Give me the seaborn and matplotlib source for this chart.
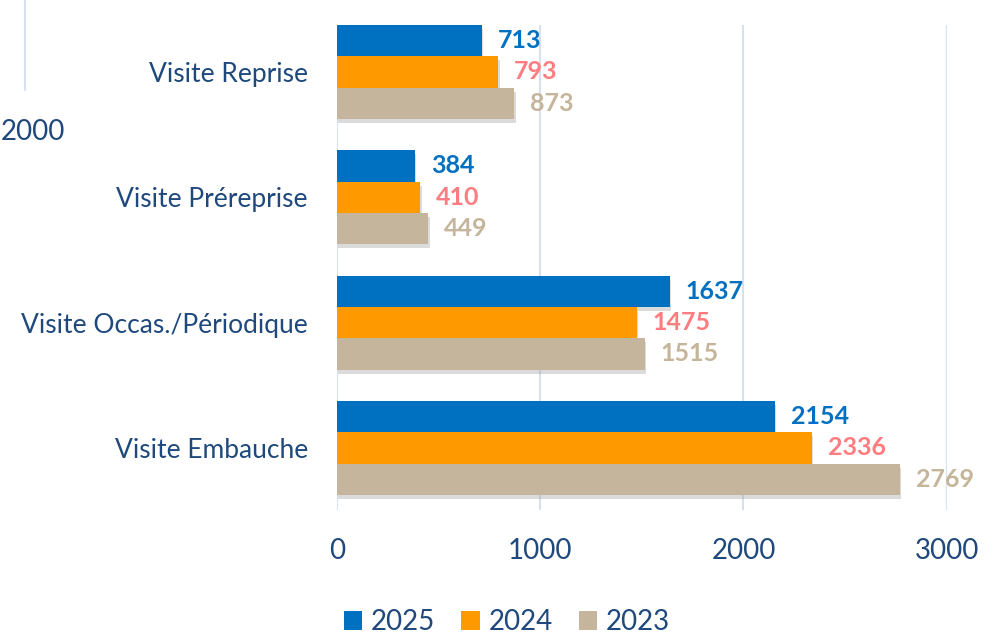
import matplotlib
matplotlib.use("Agg")
import matplotlib.pyplot as plt
import matplotlib.patheffects as pe
from matplotlib.patches import Patch
import seaborn as sns
import pandas as pd

categories = ["Visite Reprise", "Visite Préreprise", "Visite Occas./Périodique", "Visite Embauche"]
years = ["2025", "2024", "2023"]
values_2025 = [713, 384, 1637, 2154]
values_2024 = [793, 410, 1475, 2336]
values_2023 = [873, 449, 1515, 2769]
x_ticks = [0, 1000, 2000, 3000]

bar_colors = {"2025": "#0070C0", "2024": "#FF9900", "2023": "#C4B59C"}
label_colors = {"2025": "#0070C0", "2024": "#FF7C80", "2023": "#C4B59B"}
text_color = "#1F497D"
grid_color = "#D6E0EF"
FONT = ["Lato", "DejaVu Sans"]

rows = []
for y, vals in zip(years, [values_2025, values_2024, values_2023]):
    for c, v in zip(categories, vals):
        rows.append({"Catégorie": c, "Année": y, "Valeur": v})
df = pd.DataFrame(rows)

sns.set_theme(style="white")
plt.rcParams["font.family"] = FONT

W, H = 994, 634
fig = plt.figure(figsize=(W / 100, H / 100), dpi=100)
ax = fig.add_axes([337 / W, 1 - 510 / H, (946.7 - 337) / W, (510 - 25) / H])

sns.barplot(data=df, y="Catégorie", x="Valeur", hue="Année", order=categories,
            hue_order=years, palette=bar_colors, orient="h", width=0.75,
            saturation=1, ax=ax, legend=False, zorder=3)

shadow = [pe.SimplePatchShadow(offset=(1, -3), shadow_rgbFace="#8a8a8a", alpha=0.3), pe.Normal()]
for patch in ax.patches:
    patch.set_path_effects(shadow)
    patch.set_linewidth(0)

for cont, y in zip(ax.containers, years):
    ax.bar_label(cont, labels=[str(int(v)) for v in cont.datavalues], padding=11.5,
                 color=label_colors[y], fontsize=18, fontweight="bold", family=FONT)

ax.set_xlim(0, 3000)
ax.set_ylim(3.495, -0.375)
ax.set_xticks(x_ticks)
ax.set_xticklabels([str(t) for t in x_ticks])
ax.xaxis.grid(True, color=grid_color, linewidth=1.5, zorder=0)
ax.yaxis.grid(False)
for s in ax.spines.values():
    s.set_visible(False)
ax.tick_params(axis="x", length=0, pad=20, labelsize=20, labelcolor=text_color)
ax.tick_params(axis="y", length=0, pad=21, labelsize=19, labelcolor=text_color)
ax.set_xlabel("")
ax.set_ylabel("")

handles = [Patch(facecolor=bar_colors[y], edgecolor="none") for y in years]
fig.legend(handles, years, loc="center", bbox_to_anchor=(507 / W, 1 - 622 / H), ncol=3,
           frameon=False, fontsize=20, handlelength=0.65, handleheight=0.65,
           handletextpad=0.32, columnspacing=0.94, labelcolor=text_color,
           borderpad=0.1)

# remnants of a neighbouring chart visible at the left edge
fig.add_artist(plt.Line2D([25 / W, 25 / W], [1 - 90 / H, 1.0], color=grid_color, linewidth=1.5))
fig.text(0.5 / W, 1 - 132 / H, "2000", ha="left", va="center", fontsize=20, color=text_color)

fig.savefig("out.png", dpi=100)
